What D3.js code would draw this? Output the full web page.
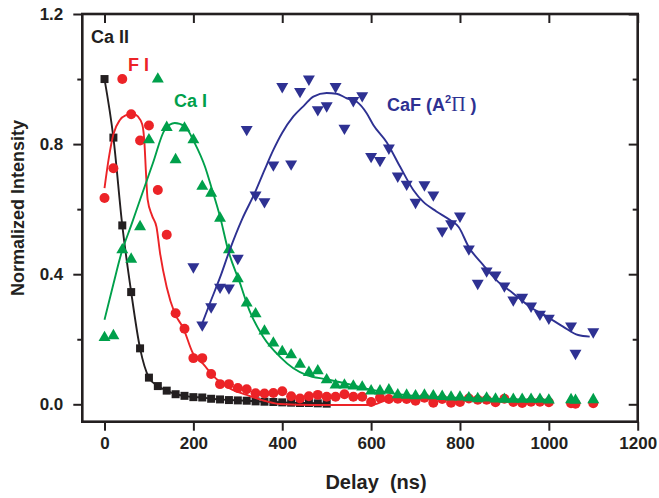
<!DOCTYPE html>
<html>
<head>
<meta charset="utf-8">
<script src="https://cdn.jsdelivr.net/npm/d3@7"></script>
<style>
  body { margin: 0; background: #fff; }
  text { font-family: "Liberation Sans", Arial, sans-serif; }
</style>
</head>
<body>
<div id="vis"></div>
<script>
// Ca II (squares)
var caIIDelay = [0, 20, 40, 60, 80, 100, 120, 140, 160, 180, 200, 220, 240, 260, 280, 300, 320, 340, 360, 380, 400, 420, 440, 460, 480, 500];
var caIIValue = [1.0, 0.82, 0.55, 0.345, 0.172, 0.082, 0.056, 0.042, 0.031, 0.026, 0.022, 0.021, 0.017, 0.015, 0.013, 0.012, 0.011, 0.009, 0.008, 0.007, 0.006, 0.005, 0.004, 0.004, 0.003, 0.002];

// F I (circles)
var fIDelay = [0, 20, 40, 60, 80, 100, 120, 140, 160, 180, 200, 220, 240, 260, 280, 300, 320, 340, 360, 380, 400, 420, 440, 460, 480, 500, 520, 540, 560, 580, 600, 620, 640, 660, 680, 700, 720, 740, 760, 780, 800, 820, 840, 860, 880, 900, 920, 940, 960, 980, 1000, 1050, 1060, 1100];
var fIValue = [0.634, 0.726, 1.0, 0.892, 0.811, 0.857, 0.659, 0.521, 0.28, 0.232, 0.142, 0.142, 0.093, 0.062, 0.062, 0.05, 0.046, 0.034, 0.033, 0.035, 0.04, 0.025, 0.018, 0.025, 0.029, 0.023, 0.023, 0.031, 0.023, 0.023, 0.007, 0.02, 0.016, 0.017, 0.016, 0.011, 0.02, 0.005, 0.016, 0.005, 0.007, 0.018, 0.014, 0.014, 0.006, 0.017, 0.007, 0.004, 0.008, 0.008, 0.006, 0.003, 0.002, 0.003];

// Ca I (up triangles)
var caIDelay = [0, 20, 40, 60, 80, 100, 120, 140, 160, 180, 200, 220, 240, 260, 280, 300, 320, 340, 360, 380, 400, 420, 440, 460, 480, 500, 520, 540, 560, 580, 600, 620, 640, 660, 680, 700, 720, 740, 760, 780, 800, 820, 840, 860, 880, 900, 920, 940, 960, 980, 1000, 1050, 1060, 1100];
var caIValue = [0.205, 0.211, 0.475, 0.446, 0.546, 0.813, 1.0, 0.851, 0.752, 0.849, 0.813, 0.67, 0.649, 0.572, 0.475, 0.386, 0.311, 0.278, 0.225, 0.188, 0.162, 0.152, 0.123, 0.098, 0.103, 0.075, 0.059, 0.059, 0.056, 0.053, 0.041, 0.041, 0.044, 0.029, 0.028, 0.026, 0.028, 0.026, 0.024, 0.022, 0.022, 0.02, 0.017, 0.019, 0.016, 0.015, 0.015, 0.015, 0.015, 0.015, 0.013, 0.014, 0.012, 0.014];

// CaF A2Pi (down triangles)
var caFDelay = [200, 220, 240, 260, 280, 300, 320, 340, 360, 380, 400, 420, 440, 460, 480, 500, 520, 540, 560, 580, 600, 620, 640, 660, 680, 700, 720, 740, 760, 780, 800, 820, 840, 860, 880, 900, 920, 940, 960, 980, 1000, 1050, 1060, 1100];
var caFValue = [0.423, 0.244, 0.3, 0.36, 0.358, 0.449, 0.845, 0.644, 0.623, 0.736, 0.977, 0.739, 0.962, 1.0, 0.906, 0.918, 0.977, 0.849, 0.934, 0.949, 0.762, 0.75, 0.788, 0.702, 0.677, 0.621, 0.675, 0.644, 0.533, 0.555, 0.579, 0.478, 0.372, 0.41, 0.398, 0.364, 0.321, 0.329, 0.302, 0.277, 0.265, 0.241, 0.157, 0.223];

// smoothed curves
var fIFitDelay = [0, 10, 20, 35, 50, 62, 75, 85, 90, 93, 97, 107, 117, 125, 140, 158, 177, 199, 222, 244, 282, 320, 365, 395, 470, 600, 640, 700, 800, 900, 1000];
var fIFitValue = [0.665, 0.76, 0.83, 0.875, 0.89, 0.895, 0.885, 0.86, 0.8, 0.72, 0.63, 0.58, 0.545, 0.465, 0.36, 0.28, 0.235, 0.157, 0.124, 0.088, 0.049, 0.029, 0.009, 0.001, -0.002, -0.002, 0.014, 0.016, 0.014, 0.012, 0.011];
var caIFitDelay = [0, 20, 38, 60, 80, 109, 136, 158, 181, 203, 226, 241, 260, 278, 305, 326, 357, 395, 425, 455, 500, 550, 600, 650, 700, 800, 900, 1000];
var caIFitValue = [0.26, 0.37, 0.465, 0.55, 0.629, 0.742, 0.845, 0.865, 0.854, 0.803, 0.731, 0.665, 0.577, 0.475, 0.372, 0.289, 0.208, 0.146, 0.111, 0.09, 0.077, 0.062, 0.045, 0.033, 0.026, 0.02, 0.016, 0.014];
var caFFitDelay = [220, 237, 260, 282, 310, 338, 360, 380, 400, 425, 450, 470, 500, 522, 545, 567, 590, 605, 635, 665, 695, 717, 747, 777, 797, 820, 852, 882, 920, 957, 995, 1032, 1066, 1092];
var caFFitValue = [0.249, 0.31, 0.39, 0.475, 0.57, 0.649, 0.72, 0.782, 0.835, 0.885, 0.92, 0.946, 0.957, 0.955, 0.941, 0.931, 0.895, 0.859, 0.806, 0.731, 0.659, 0.623, 0.593, 0.567, 0.545, 0.483, 0.429, 0.382, 0.341, 0.3, 0.27, 0.239, 0.213, 0.208];

var xTicks = [0, 200, 400, 600, 800, 1000, 1200];
var yTicks = [0, 0.4, 0.8, 1.2];
var yMinor = [0.2, 0.6, 1.0];

var W = 659, H = 498;
var margin = {top: 14, right: 21.3, bottom: 76.3, left: 82.3};

var svg = d3.select("#vis").append("svg")
	.attr("width", W)
	.attr("height", H);

var xScale = d3.scaleLinear().domain([-50, 1200]).range([margin.left, W - margin.right]);
var yScale = d3.scaleLinear().domain([-0.0535, 1.2]).range([H - margin.bottom, margin.top]);

var ink = "#231f20";
var red = "#ec2327", green = "#00a04b", blue = "#2e3192";

function zip(a, b) { return a.map(function(d, i) { return [d, b[i]]; }); }

// bottom axis
svg.append("g")
	.attr("transform", "translate(0," + (H - margin.bottom) + ")")
	.call(d3.axisBottom(xScale).tickValues(xTicks).tickSize(9).tickPadding(6).tickFormat(d3.format("d")));
// left axis
svg.append("g")
	.attr("transform", "translate(" + margin.left + ",0)")
	.call(d3.axisLeft(yScale).tickValues(yTicks).tickSize(9).tickPadding(10).tickFormat(d3.format(".1f")));
svg.append("g")
	.attr("transform", "translate(" + margin.left + ",0)")
	.call(d3.axisLeft(yScale).tickValues(yMinor).tickSize(5).tickFormat(""));
// top and right, ticks inward
svg.append("g")
	.attr("transform", "translate(0," + margin.top + ")")
	.call(d3.axisTop(xScale).tickValues(xTicks).tickSize(-9).tickFormat(""));
svg.append("g")
	.attr("transform", "translate(" + (W - margin.right) + ",0)")
	.call(d3.axisRight(yScale).tickValues(yTicks).tickSize(-9).tickFormat(""));
svg.append("g")
	.attr("transform", "translate(" + (W - margin.right) + ",0)")
	.call(d3.axisRight(yScale).tickValues(yMinor).tickSize(-5).tickFormat(""));

svg.selectAll(".domain").remove();
svg.selectAll(".tick line").attr("stroke", ink).attr("stroke-width", 2);
svg.selectAll(".tick text")
	.attr("fill", ink)
	.style("font-size", "17px")
	.style("font-weight", "bold");

// frame
svg.append("rect")
	.attr("x", margin.left)
	.attr("y", margin.top)
	.attr("width", W - margin.left - margin.right)
	.attr("height", H - margin.top - margin.bottom)
	.attr("fill", "none")
	.attr("stroke", ink)
	.attr("stroke-width", 2.6);

var plot = svg.append("g");

var line = d3.line()
	.x(function(d) { return xScale(d[0]); })
	.y(function(d) { return yScale(d[1]); })
	.curve(d3.curveMonotoneX);

function drawPoints(pts, symbol, size, color, rotate) {
	plot.append("g").selectAll("path")
		.data(pts)
		.enter().append("path")
		.attr("d", d3.symbol().type(symbol).size(size))
		.attr("transform", function(d) {
			return "translate(" + xScale(d[0]) + "," + yScale(d[1]) + ")" + (rotate ? " rotate(180)" : "");
		})
		.attr("fill", color);
}
function drawLine(pts, color) {
	plot.append("path")
		.datum(pts)
		.attr("d", line)
		.attr("fill", "none")
		.attr("stroke", color)
		.attr("stroke-width", 1.9);
}

drawPoints(zip(caIIDelay, caIIValue), d3.symbolSquare, 64, ink, false);
drawLine(zip(caIIDelay, caIIValue), ink);

drawPoints(zip(fIDelay, fIValue), d3.symbolCircle, 78, red, false);
drawLine(zip(fIFitDelay, fIFitValue), red);

drawPoints(zip(caIDelay, caIValue), d3.symbolTriangle, 62, green, false);
drawLine(zip(caIFitDelay, caIFitValue), green);

drawPoints(zip(caFDelay, caFValue), d3.symbolTriangle, 62, blue, true);
drawLine(zip(caFFitDelay, caFFitValue), blue);

// series labels
function label(x, y, txt, color) {
	return svg.append("text")
		.attr("x", x).attr("y", y)
		.attr("fill", color)
		.style("font-size", "18px")
		.style("font-weight", "bold")
		.text(txt);
}
label(91, 43, "Ca II", ink);
label(128, 71, "F I", red);
label(174, 107, "Ca I", green);
var caf = label(387, 111, "CaF (A", blue);
caf.append("tspan").attr("dy", -8).style("font-size", "11px").text("2");
caf.append("tspan").attr("dy", 8)
	.style("font-family", "'Liberation Serif', serif")
	.style("font-weight", "normal")
	.style("font-size", "20px")
	.text("\u03A0");
caf.append("tspan").text(" )");

// axis titles
svg.append("text")
	.attr("x", 376).attr("y", 489)
	.attr("text-anchor", "middle")
	.attr("fill", ink)
	.style("font-size", "20px")
	.style("font-weight", "bold")
	.style("white-space", "pre")
	.text("Delay  (ns)");

svg.append("text")
	.attr("transform", "translate(24,208) rotate(-90)")
	.attr("text-anchor", "middle")
	.attr("fill", ink)
	.style("font-size", "18px")
	.style("font-weight", "bold")
	.text("Normalized Intensity");
</script>
</body>
</html>
